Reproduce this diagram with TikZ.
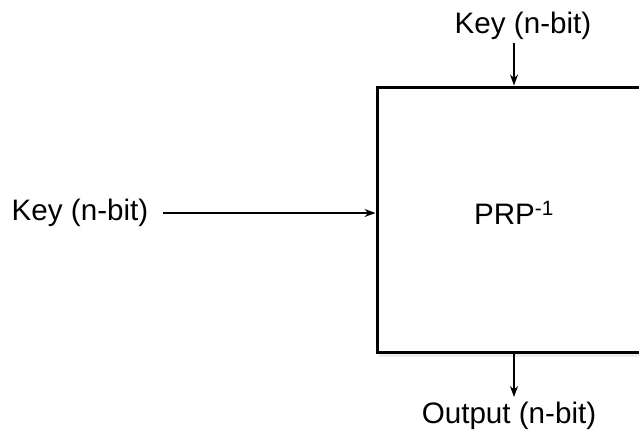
\documentclass[tikz,border=0pt]{standalone}
\usepackage{fontspec}
\setmainfont{Liberation Sans}
\usetikzlibrary{arrows.meta,shadows}

\begin{document}
\begin{tikzpicture}[x=1pt,y=-1pt]
        \tikzset{
          every node/.style={inner sep=0pt, font=\fontsize{29.6}{35}\selectfont},
          flow/.style={draw=black, line width=1.2pt, -{Stealth[length=11pt,width=8pt]}},
          prpbox/.style={draw=black, fill=white, line width=3pt, minimum width=274pt, minimum height=265pt,
                         drop shadow={shadow xshift=2pt, shadow yshift=-5pt, opacity=0.15}}
        }
        \clip (0,0) rectangle (639,434);
        \fill [white] (0,0) rectangle (639,434);
        \node [prpbox] (prp) at (514,219.5) {};
        \node (prplabel) at (514,213) {PRP\textsuperscript{-1}};
        \node (keytop) at (523,26) {Key (n-bit)};
        \node (keyleft) at (80,213) {Key (n-bit)};
        \node (output) at (509,416) {Output (n-bit)};
        \coordinate (keytopstart) at (prp.north |- 0,43);
        \coordinate (outputend) at (prp.south |- 0,397);
        \draw [flow] (keytopstart) -- (prp.north);
        \draw [flow, shorten <=15pt] (keyleft.east) -- (keyleft.east -| prp.west);
        \draw [flow] (prp.south) -- (outputend);
    \end{tikzpicture}
\end{document}
